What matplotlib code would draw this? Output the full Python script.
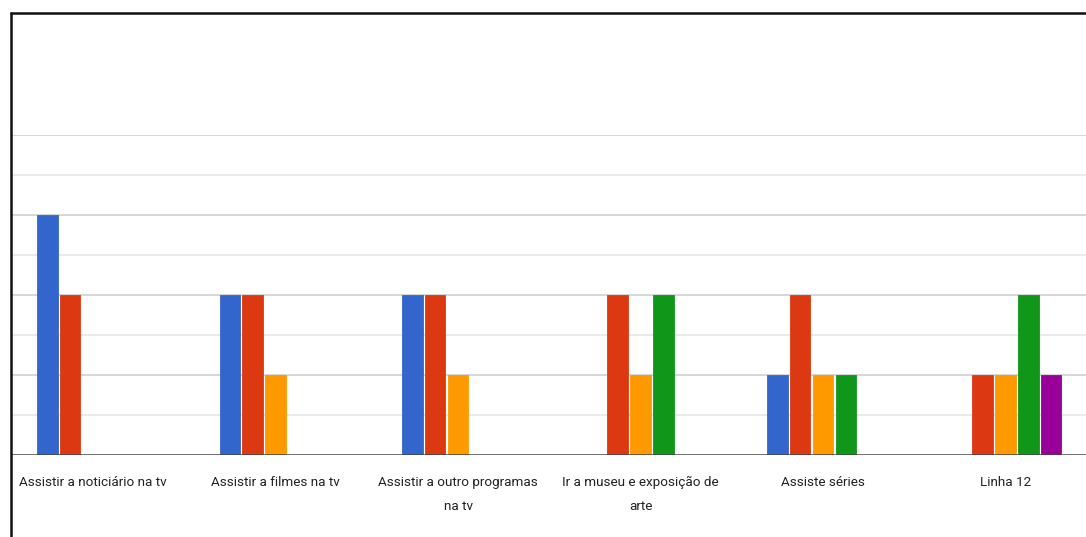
import matplotlib
matplotlib.use("Agg")
import matplotlib.pyplot as plt
from matplotlib.lines import Line2D
import numpy as np

categories = [
    "Assistir a noticiário na tv",
    "Assistir a filmes na tv",
    "Assistir a outro programas\nna tv",
    "Ir a museu e exposição de\narte",
    "Assiste séries",
    "Linha 12",
]
series_blue = [3, 2, 2, 0, 1, 0]
series_red = [2, 2, 2, 2, 2, 1]
series_orange = [0, 1, 1, 1, 1, 1]
series_green = [0, 0, 0, 2, 1, 2]
series_purple = [0, 0, 0, 0, 0, 1]
series = [series_blue, series_red, series_orange, series_green, series_purple]
colors = ["#3366cc", "#dc3912", "#ff9900", "#109618", "#990099"]

W, H = 1086, 537
fig = plt.figure(figsize=(W / 100, H / 100), dpi=100)
fig.patch.set_facecolor("white")

# plot area in pixel coordinates
left_px, right_px, top_px, bottom_px = 11, 1086, 135, 455
ax = fig.add_axes([left_px / W, 1 - bottom_px / H,
                   (right_px - left_px) / W, (bottom_px - top_px) / H])
ax.set_facecolor("white")

x = np.arange(len(categories))
slot = 0.125
width = 0.113
for i, (vals, c) in enumerate(zip(series, colors)):
    offs = (i - 2) * slot
    ax.bar(x + offs, vals, width=width, color=c, edgecolor=c,
           linewidth=0.6, zorder=3)

ax.set_ylim(0, 4)
ax.set_xlim((left_px - 93) / 182.5, (right_px - 93) / 182.5)

# gridlines: full units darker, half units lighter
for v in [1, 2, 3, 4]:
    ax.axhline(v, color="#d0d0d0", linewidth=1.2, zorder=1)
for v in [0.5, 1.5, 2.5, 3.5]:
    ax.axhline(v, color="#e6e6e6", linewidth=1.2, zorder=1)
ax.axhline(0, color="#444444", linewidth=1.8, zorder=4)

for s in ax.spines.values():
    s.set_visible(False)
ax.set_yticks([])
ax.set_xticks(x)
ax.set_xticklabels(categories, fontfamily="Roboto", fontsize=9.7,
                   color="#222222", linespacing=2.1)
ax.tick_params(axis="x", length=0, pad=15)

# outer frame (left and top edges)
fig.add_artist(Line2D([10.5 / W, 10.5 / W], [0, 1 - 12 / H],
                      transform=fig.transFigure, color="#111111",
                      linewidth=1.8, solid_capstyle="butt"))
fig.add_artist(Line2D([10 / W, 1], [1 - 12.5 / H, 1 - 12.5 / H],
                      transform=fig.transFigure, color="#111111",
                      linewidth=1.8, solid_capstyle="butt"))

fig.savefig("out.png", dpi=100, facecolor="white")
